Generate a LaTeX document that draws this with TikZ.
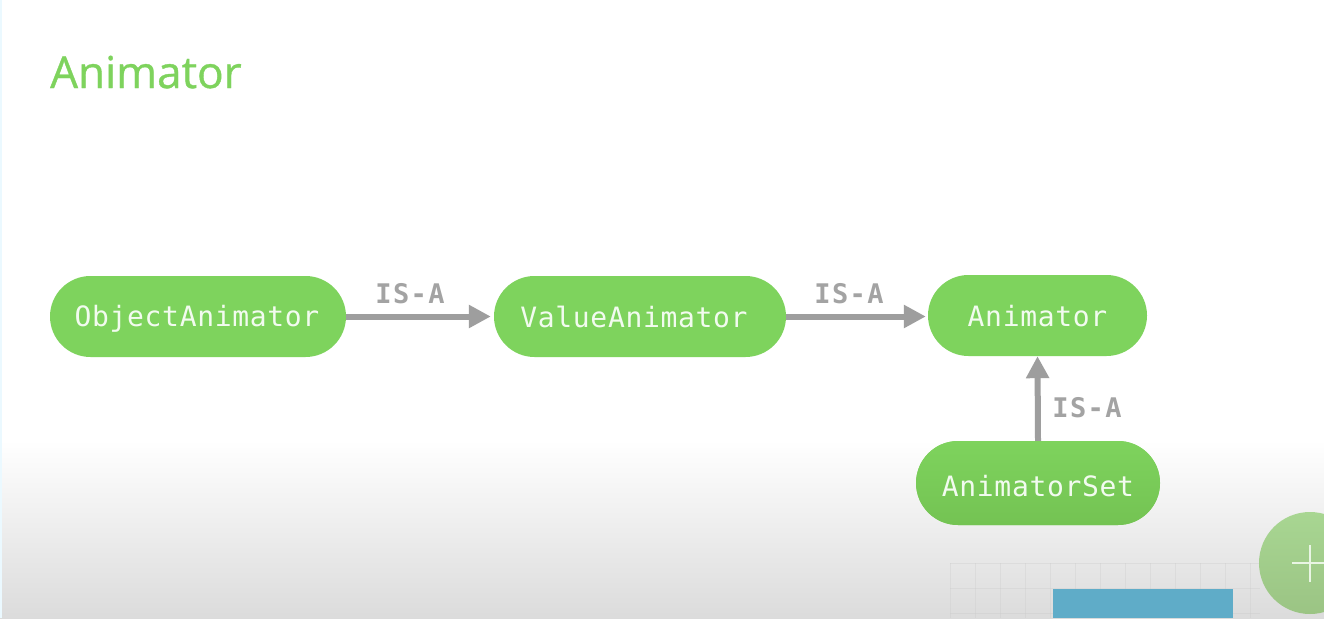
\documentclass[tikz,border=0pt]{standalone}
\usepackage{fontspec}
\setmainfont{Noto Sans}
\newfontfamily\monof[LetterSpace=2.4]{DejaVu Sans Mono}
\newfontfamily\monob[LetterSpace=5]{DejaVu Sans Mono Bold}
\newfontfamily\titlef[FakeBold=0.8]{Open Sans}
\usetikzlibrary{arrows.meta,shadings,shapes.misc}
\definecolor{pill}{HTML}{7ED35D}
\definecolor{pilldark}{HTML}{74C353}
\definecolor{arrowgray}{HTML}{9E9E9E}
\definecolor{labelgray}{HTML}{A3A3A3}
\definecolor{gridc}{HTML}{C8C8C8}
\definecolor{cardblue}{HTML}{5FACC8}
\definecolor{plustop}{HTML}{A8D692}
\definecolor{plusbot}{HTML}{9BC484}
\tikzset{
  pillbox/.style={rounded rectangle,fill=pill,draw=none,text=white!90!pill,
    inner sep=0pt,text depth=0pt,font=\monof\fontsize{28}{30}\selectfont},
  isa/.style={draw=arrowgray,line width=6pt,-{Triangle[length=22pt,width=22pt]}},
  isalabel/.style={text=labelgray,inner sep=0pt,font=\monob\fontsize{27}{28}\selectfont},
}
\begin{document}
\begin{tikzpicture}[x=1pt,y=-1pt]
\useasboundingbox (0,0) rectangle (1324,618);
\fill[white] (0,0) rectangle (1324,618);
\shade[top color=white,bottom color=white!86!black] (0,440) rectangle (1324,618);
\fill[blue!30!cyan!8] (0,0) rectangle (2,618);
% grid behind the cropped card
\foreach \gx in {950,975,...,1250} \draw[gridc,opacity=.3,line width=.6pt] (\gx,563) -- (\gx,618);
\foreach \gy in {563,588,613} \draw[gridc,opacity=.3,line width=.6pt] (950,\gy) -- (1260,\gy);
\fill[cardblue] (1053,589) rectangle (1233,618);
% plus button
\begin{scope}
\clip (0,0) rectangle (1324,618);
\shade[top color=plustop,bottom color=plusbot] (1310,563) circle (51);
\draw[white!75!plustop,line width=2.5pt] (1292,563) -- (1324,563);
\draw[white!75!plustop,line width=2.5pt] (1310,545) -- (1310,582);
\end{scope}
% title
\node[anchor=base west,inner sep=0pt,text=pill,font=\titlef\fontsize{44}{50}\selectfont] (title) at (50,88) {Animator};
% pills
\node[pillbox,text height=19pt,minimum width=296pt,minimum height=81pt] (obj) at (198,316.5) {ObjectAnimator\rule{2pt}{0pt}};
\node[pillbox,text height=21pt,minimum width=292pt,minimum height=81pt] (val) at (640,316.5) {ValueAnimator\rule{12pt}{0pt}};
\node[pillbox,text height=21pt,minimum width=219pt,minimum height=81pt] (ani) at (1037.5,315.5) {Animator};
\node[pillbox,text height=26pt,top color=pill,bottom color=pilldark,minimum width=244pt,minimum height=84pt] (set) at (1038,483) {AnimatorSet};
% connectors
\draw[isa,shorten >=3pt] (obj.east) -- (val.west);
\draw[isa,shorten >=2pt] (val.east) -- (val.east -| ani.west);
\draw[isa] (set.north) -- (ani.south);
% labels
\node[isalabel] (l1) at (410,294) {IS-A};
\node[isalabel] (l2) at (849,294) {IS-A};
\node[isalabel] (l3) at (1087,407.5) {IS-A};
\end{tikzpicture}
\end{document}
